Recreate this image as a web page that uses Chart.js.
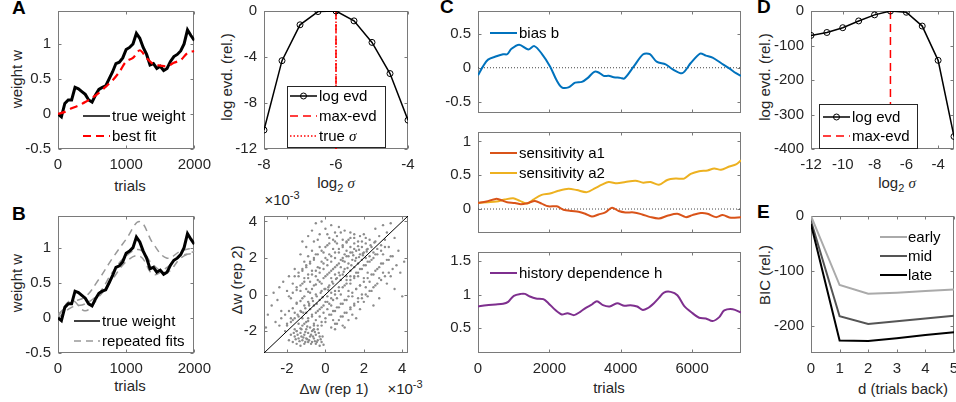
<!DOCTYPE html>
<html>
<head>
<meta charset="utf-8">
<script src="https://cdn.jsdelivr.net/npm/chart.js@4.4.1/dist/chart.umd.min.js"></script>
<style>
  body { margin: 0; width: 956px; height: 402px; overflow: hidden; position: relative; background: #fff;
         font-family: "Liberation Sans", Arial, sans-serif; color: #262626; }
  canvas { position: absolute; }
  .t { position: absolute; font-size: 15px; line-height: 1; white-space: nowrap; transform: translate(-50%, -50%); }
  .r { transform: translate(-50%, -50%) rotate(-90deg); }
  .k { position: absolute; font-size: 19px; font-weight: bold; line-height: 1; color: #000; }
  .s { font-family: "Liberation Serif", serif; font-style: italic; }
  sub, sup { font-size: 11px; line-height: 0; }
</style>
</head>
<body>
<div class="k" style="left:12px;top:-2px">A</div>
<div class="k" style="left:12px;top:204px">B</div>
<div class="k" style="left:440px;top:-3px">C</div>
<div class="k" style="left:757px;top:-3px">D</div>
<div class="k" style="left:757px;top:202px">E</div>

<div class="t r" style="left:16px;top:79px">weight w</div>
<div class="t" style="left:130px;top:185px">trials</div>
<div class="t r" style="left:226px;top:77px">log evd. (rel.)</div>
<div class="t" style="left:336px;top:183px">log<sub>2</sub> <span class="s">σ</span></div>

<div class="t r" style="left:16px;top:283px">weight w</div>
<div class="t" style="left:130px;top:385px">trials</div>
<div class="t r" style="left:236px;top:280px">Δw (rep 2)</div>
<div class="t" style="left:334px;top:388px">Δw (rep 1)</div>
<div class="t" style="left:282px;top:199px">×10<sup>-3</sup></div>
<div class="t" style="left:405px;top:388px">×10<sup>-3</sup></div>

<div class="t" style="left:609px;top:387px">trials</div>

<div class="t r" style="left:764px;top:77px">log evd. (rel.)</div>
<div class="t" style="left:897px;top:183px">log<sub>2</sub> <span class="s">σ</span></div>
<div class="t r" style="left:764px;top:275px">BIC (rel.)</div>
<div class="t" style="left:903px;top:388px">d (trials back)</div>

<script>
// ---- A / B : weight trajectory and fits ----
const trialsW = [0,50,100,150,200,250,300,350,400,450,500,550,600,650,700,750,800,850,900,950,1000,
                 1050,1100,1150,1200,1250,1300,1350,1400,1450,1500,1550,1600,1650,1700,1750,1800,1850,1900,1950,2000];
const trueWeight = [0,-0.04,0.15,0.2,0.2,0.38,0.36,0.32,0.28,0.2,0.17,0.27,0.35,0.38,0.4,0.5,0.6,0.72,0.74,0.8,0.92,
                    0.95,1.0,1.15,1.08,0.95,0.85,0.7,0.72,0.65,0.68,0.62,0.65,0.75,0.82,0.85,0.9,1.0,1.2,1.12,1.05];
const trialsFit = [0,100,200,300,400,500,600,700,800,900,1000,1100,1200,1300,1400,1500,1600,1700,1800,1900,2000];
const bestFit = [0,0.03,0.08,0.12,0.17,0.23,0.3,0.39,0.48,0.6,0.75,0.8,0.91,0.8,0.71,0.69,0.68,0.73,0.77,0.87,0.9];
const trialsRep = [0,200,400,600,800,1000,1200,1400,1600,1800,2000];
const repFit1 = [0.05,0.22,0.3,0.55,0.85,1.12,1.37,1.05,0.85,0.95,1.0];
const repFit2 = [0,0.15,0.2,0.35,0.65,0.88,0.97,0.75,0.65,0.85,0.95];
const repFit3 = [0.02,0.25,0.1,0.3,0.55,0.8,0.88,0.62,0.72,0.88,0.92];

// ---- A right : log evidence over sigma ----
const sigmaA = [-8,-7.5,-7,-6.5,-6,-5.5,-5,-4.5,-4];
const logEvdA = [-10.35,-4.32,-1.2,-0.05,0,-0.86,-2.73,-5.44,-9.49];
const maxEvdA = -6;

// ---- B right : weight changes, rep 1 vs rep 2 (x1e-3) ----
const repPairs = [
  [-1.7,-2.6],[-1.6,-2.3],[-1.5,-2.7],[-1.4,-2.4],[-1.3,-2.1],[-1.3,-2.8],[-1.2,-2.5],[-1.1,-2.2],[-1.1,-2.7],
  [-1.0,-1.9],[-1.0,-2.4],[-0.9,-2.6],[-0.9,-2.1],[-0.8,-2.3],[-0.8,-1.8],[-0.7,-2.6],[-0.7,-2.0],[-0.6,-2.4],
  [-0.5,-2.2],[-0.5,-2.7],[-0.4,-2.5],[-0.3,-2.8],[-0.3,-2.3],[-0.2,-2.6],[-1.6,-1.9],[-1.5,-2.0],[-1.8,-2.2],
  [-1.9,-2.5],[-1.2,-1.7],[-1.4,-1.6],[-0.6,-1.7],[-1.0,-1.5],[-0.4,-1.9],[-0.1,-2.75],[-1.7,-1.4],
  [-1.25,-2.3],[-0.95,-2.45],[-0.75,-2.2],[-0.55,-2.55],[-1.45,-2.2],[-0.65,-1.95],[-1.05,-2.05],[-0.35,-2.1],
  [-1.35,-2.55],[-1.15,-2.35],[-0.85,-2.5],[-0.65,-2.3],[-0.45,-2.6],[-0.25,-2.45],[-1.55,-2.45],[-1.05,-2.6],
  [-0.75,-2.7],[-0.55,-2.05],[-0.95,-1.75],[-1.25,-1.9],[-0.15,-2.3],[-1.65,-2.1],
  [-1.4,-1.2],[-1.3,-0.9],[-1.2,-1.3],[-1.1,-0.6],[-1.0,-1.0],[-0.9,-0.4],[-0.9,-1.3],[-0.8,-0.8],[-0.7,-1.1],
  [-0.7,-0.2],[-0.6,-0.6],[-0.5,-1.4],[-0.5,0.0],[-0.4,-0.9],[-0.3,-0.3],[-0.3,-1.2],[-0.2,0.2],[-0.2,-0.7],
  [-0.1,-1.0],[0.0,-0.4],[0.0,0.3],[0.1,-0.1],[0.1,-0.8],[0.2,0.5],[0.2,-0.5],[0.3,0.1],[0.3,-1.1],[0.4,-0.3],
  [0.4,0.6],[0.5,0.2],[-1.6,-1.0],[-1.5,-0.5],[-1.8,-1.3],[-2.0,-1.6],[-2.1,-1.1],[-1.2,-0.2],[-0.8,0.1],
  [-0.6,-1.6],[0.0,-1.5],[-0.2,-1.7],[-1.15,-1.0],[-0.85,-0.6],[-0.45,-0.5],[-0.15,-0.15],[0.15,0.25],
  [-1.3,0.2],[-1.2,0.6],[-1.2,1.3],[-1.1,0.9],[-1.1,1.8],[-1.0,0.3],[-1.0,1.5],[-0.9,1.1],[-0.9,2.1],[-0.8,0.7],
  [-0.8,1.7],[-0.7,1.3],[-0.7,2.4],[-0.6,0.5],[-0.6,1.9],[-0.5,1.0],[-0.5,2.2],[-0.4,1.5],[-0.4,0.8],[-0.3,2.6],
  [-0.3,1.2],[-0.2,1.8],[-0.2,0.6],[-0.1,2.3],[-0.1,1.4],[0.0,1.0],[0.0,2.0],[0.1,1.6],[0.1,2.7],[0.2,1.2],
  [0.2,2.2],[0.3,1.8],[0.3,0.9],[0.4,2.5],[0.4,1.4],[0.5,2.0],[0.5,1.1],[0.6,2.8],[0.6,1.6],[0.7,2.3],[0.8,1.9],
  [0.9,2.6],[1.0,2.2],[1.1,2.9],[-1.4,1.0],[-1.5,0.4],[-1.6,1.4],[-1.3,2.2],[-1.0,2.6],[-0.6,2.9],
  [0.5,2.9],[0.6,0.9],[0.7,1.2],[0.8,0.8],[0.8,1.5],[0.9,1.1],[0.9,2.0],[1.0,1.4],[1.0,1.8],[1.1,1.0],[1.1,2.4],
  [1.2,1.7],[1.2,2.1],[1.3,1.3],[1.3,2.6],[1.4,1.9],[1.4,2.3],[1.5,1.5],[1.5,2.8],[1.6,2.0],[1.6,2.4],[1.7,1.7],
  [1.7,2.9],[1.8,2.2],[1.8,1.4],[1.9,2.6],[1.9,1.9],[2.0,2.3],[2.0,1.6],[2.1,2.8],[2.1,2.0],[2.2,2.5],[2.2,1.8],
  [2.3,3.0],[2.3,2.1],[2.4,2.6],[2.5,2.3],[2.6,2.9],[2.7,2.5],[2.8,3.2],[1.5,3.1],[1.2,3.0],[1.8,3.2],[2.0,3.3],
  [0.9,3.0],[1.3,1.0],[1.6,1.2],[2.4,1.9],[2.6,2.2],[2.9,2.7],[1.45,2.15],[1.75,2.45],[1.95,2.15],[2.15,2.35],
  [0.3,-0.6],[0.4,-1.4],[0.5,-0.9],[0.6,-0.2],[0.6,-1.6],[0.7,-0.7],[0.7,0.4],[0.8,-1.2],[0.8,0.0],[0.9,-0.5],
  [0.9,-1.7],[1.0,0.5],[1.0,-1.0],[1.1,-0.3],[1.1,0.8],[1.2,-1.4],[1.2,0.2],[1.3,-0.7],[1.3,0.6],[1.4,-0.1],
  [1.4,-1.1],[1.5,0.9],[1.5,-0.5],[1.6,0.3],[1.6,-1.3],[1.7,-0.2],[1.7,1.0],[1.8,0.5],[1.8,-0.8],[1.9,0.0],
  [2.0,0.9],[2.0,-0.4],[2.1,0.4],[2.2,1.2],[2.2,-0.1],[2.3,0.7],[2.4,0.2],[2.5,1.1],[2.6,0.5],[2.7,1.4],
  [2.8,0.9],[2.9,1.7],[3.0,1.2],[1.0,-1.8],[0.5,-1.9],
  [-2.0,-1.7],[-1.8,-1.5],[-1.6,-1.3],[-1.45,-1.1],[-1.25,-0.95],[-1.05,-0.75],[-0.85,-0.5],[-0.65,-0.35],
  [-0.45,-0.1],[-0.25,0.1],[-0.05,0.3],[0.15,0.4],[0.35,0.7],[0.55,0.85],[0.75,1.05],[0.95,1.25],[1.15,1.45],
  [1.35,1.6],[1.55,1.85],[1.75,2.05],[1.95,2.25],[2.15,2.45],[2.35,2.7],[2.55,2.85],
  [-2.3,-1.3],[-1.9,-0.9],[-1.7,-0.75],[-1.5,-0.45],[-1.3,-0.35],[-1.1,-0.1],[-0.9,0.15],[-0.7,0.3],[-0.5,0.55],
  [-0.3,0.7],[-0.1,0.9],[0.1,1.1],[0.3,1.3],[0.5,1.5],[0.7,1.7],[0.9,1.85],[1.1,2.1],[1.3,2.3],[1.5,2.5],
  [1.7,2.65],[1.9,2.9],[2.1,3.1],
  [-1.9,-0.1],[-1.7,0.1],[-1.5,0.25],[-1.3,0.5],[-1.1,0.7],[-0.9,0.9],[-0.7,1.1],[-0.5,1.3],[-0.3,1.45],
  [-0.1,1.7],[0.1,1.9],[0.3,2.1],[0.5,2.3],[0.7,2.5],[0.9,2.7],[1.1,2.85],[1.3,3.1],[1.5,3.3],
  [-1.6,1.0],[-1.4,1.2],[-1.2,1.4],[-1.0,1.6],[-0.8,1.8],[-0.6,2.0],[-0.4,2.2],[-0.2,2.4],[0.0,2.6],[0.2,2.8],
  [0.4,3.0],[0.6,3.2],[0.8,3.4],
  [-1.5,-2.0],[-1.3,-1.85],[-1.1,-1.6],[-0.9,-1.45],[-0.7,-1.2],[-0.5,-1.0],[-0.3,-0.8],[-0.1,-0.6],[0.1,-0.4],
  [0.3,-0.2],[0.5,0.0],[0.7,0.2],[0.9,0.4],[1.1,0.6],[1.3,0.8],[1.5,1.0],[1.7,1.2],[1.9,1.4],[2.1,1.6],[2.3,1.8],
  [2.5,2.0],[2.7,2.2],[2.9,2.4],[3.1,2.6],
  [-0.6,-1.9],[-0.4,-1.7],[-0.2,-1.5],[0.0,-1.3],[0.2,-1.1],[0.4,-0.9],[0.6,-0.7],[0.8,-0.5],[1.0,-0.3],
  [1.2,-0.1],[1.4,0.1],[1.6,0.3],[1.8,0.5],[2.0,0.7],[2.2,0.9],[2.4,1.1],[2.6,1.3],[2.8,1.5],[3.0,1.7],
  [3.2,1.9],[3.4,2.1],
  [0.3,-1.8],[0.5,-1.6],[0.7,-1.4],[0.9,-1.2],[1.1,-1.0],[1.3,-0.8],[1.5,-0.6],[1.7,-0.4],[1.9,-0.2],[2.1,0.0],
  [2.3,0.2],[2.5,0.4],[2.7,0.6],[2.9,0.8],[3.1,1.0],[3.3,1.2],[3.5,1.4],
  [-3.0,-1.1],[-2.8,-0.6],[-2.7,0.1],[-2.5,-0.3],[-2.4,0.4],[-2.3,-0.9],[-2.2,0.7],[-2.0,0.2],[-1.9,1.0],
  [-1.8,-0.2],[-2.6,-1.5],[-2.1,-2.0],[-1.7,0.6],[-2.4,-1.7],[-3.1,-1.8],
  [-0.9,3.2],[-0.7,3.5],[-0.5,3.9],[-0.3,3.3],[-0.2,4.0],[0.0,3.6],[0.2,3.1],[0.3,3.8],[0.5,3.4],[0.7,3.7],
  [1.0,3.5],[-1.2,2.9],[-0.4,3.0],[0.1,3.3],[1.3,3.4],
  [3.0,3.8],[3.2,3.4],[3.3,2.6],[3.4,3.9],[3.5,2.1],[3.6,3.1],[3.7,1.6],[3.8,2.4],[3.9,1.2],[4.0,-0.1],
  [4.1,1.8],[3.2,0.6],[3.4,1.0],[3.6,0.3],[3.0,2.2],[3.1,3.0],[2.6,3.6],[3.3,1.9],[2.8,-0.2],[2.5,-0.6]
];
const repLimits = [-3.2, 4.3];

// ---- C : fitted parameter trajectories ----
const trialsBias = [0,141,282,516,704,817,939,1155,1408,1577,1784,2019,2207,2347,2535,2723,2911,3080,3258,3380,
                    3521,3662,3803,3991,4103,4366,4629,4817,5005,5258,5446,5728,5962,6225,6385,6573,6808,7042,7230,7371];
const biasB = [-0.11,0.02,0.12,0.17,0.2,0.2,0.28,0.34,0.27,0.32,0.21,0.02,-0.19,-0.29,-0.29,-0.22,-0.21,-0.15,-0.06,-0.07,
               -0.12,-0.12,-0.14,-0.15,-0.16,0.02,0.2,0.2,0.09,0.05,-0.02,-0.08,0.07,0.21,0.18,0.15,0.07,-0.01,-0.08,-0.12];
const trialsA1 = [0,235,498,657,817,1033,1202,1408,1596,1784,1972,2207,2394,2629,2817,3005,3192,3380,3568,3756,
                  3944,4131,4366,4601,4836,5070,5305,5587,5822,6009,6244,6432,6667,6854,7089,7371];
const sensA1 = [0.09,0.11,0.15,0.13,0.1,0.09,0.07,0.09,0.12,0.08,0.04,0.04,-0.01,-0.03,-0.04,-0.07,-0.11,-0.08,-0.05,0.02,
                -0.03,-0.05,-0.05,-0.08,-0.12,-0.14,-0.1,-0.07,-0.12,-0.09,-0.06,-0.07,-0.12,-0.09,-0.13,-0.12];
const trialsA2 = [0,282,516,751,986,1174,1380,1549,1784,2019,2254,2535,2770,3052,3286,3474,3662,3897,4131,4413,
                  4629,4836,5070,5305,5540,5775,5962,6197,6432,6620,6808,7042,7230,7371];
const sensA2 = [0.09,0.1,0.11,0.14,0.16,0.12,0.08,0.14,0.21,0.23,0.27,0.3,0.28,0.25,0.31,0.36,0.4,0.38,0.4,0.42,
                0.39,0.4,0.36,0.43,0.45,0.45,0.52,0.56,0.57,0.6,0.58,0.63,0.66,0.72];
const trialsH = [0,235,498,704,845,1005,1202,1315,1455,1624,1831,1972,2160,2347,2507,2695,2864,3023,3192,3333,
                 3502,3690,3897,4103,4272,4460,4601,4742,4930,5070,5211,5399,5587,5775,6009,6197,6385,6573,6761,6901,7136,7371];
const histH = [0.82,0.84,0.85,0.86,0.89,0.98,1.01,1.01,0.97,0.94,0.93,0.87,0.77,0.7,0.72,0.69,0.74,0.8,0.85,0.9,
               0.84,0.82,0.87,0.83,0.84,0.82,0.77,0.79,0.87,0.95,1.03,1.04,0.99,0.83,0.72,0.65,0.64,0.6,0.66,0.76,0.78,0.73];
const trialsMaxC = 7370;

// ---- D : log evidence, real data ----
const sigmaD = [-12,-11,-10,-9,-8,-7,-6,-5,-4,-3];
const logEvdD = [-70.7,-62.3,-48.4,-28.8,-11.2,0,-3.7,-43.7,-143,-363.7];
const maxEvdD = -7;

// ---- E : BIC vs history length ----
const trialsBack = [0,1,2,3,4,5];
const bicEarly = [0,-126,-142,-140,-137,-134];
const bicMid = [-9,-183,-197,-192,-187,-182];
const bicLate = [-15,-227,-228,-223,-217,-212];

// ---- tick sets ----
const ticksTrialsAB = [0,1000,2000];
const ticksWeight = [-0.5,0,0.5,1];
const ticksSigmaA = [-8,-6,-4];
const ticksEvdA = [-12,-8,-4,0];
const ticksRep = [-2,0,2,4];
const ticksTrialsC = [0,2000,4000,6000];
const ticksBias = [-0.5,0,0.5];
const ticksSens = [0,0.5,1];
const ticksHist = [0.5,1,1.5];
const ticksSigmaD = [-12,-10,-8,-6,-4];
const ticksEvdD = [-400,-300,-200,-100,0];
const ticksBack = [0,1,2,3,4,5];
const ticksBic = [-200,-100,0];

Chart.defaults.font.family = '"Liberation Sans", Arial, sans-serif';
Chart.defaults.font.size = 15;
Chart.defaults.color = '#262626';

const SANS = '15px "Liberation Sans", Arial, sans-serif';
const SERIF_I = 'italic 15px "Liberation Serif", serif';

function xy(xs, ys) { return xs.map((x, i) => ({ x: x, y: ys[i] })); }

function axis(min, max, ticks, labels) {
  return {
    type: 'linear', min: min, max: max,
    grid: { display: false, drawTicks: false },
    border: { display: false },
    ticks: { display: labels !== false, padding: 7, autoSkip: false, maxRotation: 0, callback: v => String(v) },
    afterBuildTicks: s => { s.ticks = ticks.map(v => ({ value: v })); }
  };
}

function line(label, data, color, width, dash, extra) {
  return Object.assign({ label: label, data: data, showLine: true, borderColor: color, backgroundColor: color,
    borderWidth: width, borderDash: dash || [], pointRadius: 0, tension: 0 }, extra || {});
}

// box outline with inward ticks, matlab style
const frame = {
  id: 'frame',
  beforeDatasetsDraw(chart) {
    const { ctx, chartArea: a, scales } = chart;
    const L = Math.round(a.left) + 0.5, R = Math.round(a.right) - 0.5;
    const T = Math.round(a.top) + 0.5, B = Math.round(a.bottom) - 0.5;
    ctx.save();
    ctx.strokeStyle = '#7a7a7a';
    ctx.lineWidth = 1;
    ctx.strokeRect(L, T, R - L, B - T);
    ctx.beginPath();
    scales.x.ticks.forEach(t => {
      const p = Math.round(scales.x.getPixelForValue(t.value)) + 0.5;
      ctx.moveTo(p, B); ctx.lineTo(p, B - 3);
      ctx.moveTo(p, T); ctx.lineTo(p, T + 3);
    });
    scales.y.ticks.forEach(t => {
      const p = Math.round(scales.y.getPixelForValue(t.value)) + 0.5;
      ctx.moveTo(L, p); ctx.lineTo(L + 3, p);
      ctx.moveTo(R, p); ctx.lineTo(R - 3, p);
    });
    ctx.stroke();
    ctx.restore();
  }
};

// legend drawn inside the axes
const keyBox = {
  id: 'keyBox',
  afterDatasetsDraw(chart, args, o) {
    if (!o || !o.rows) return;
    const { ctx, chartArea: a } = chart;
    ctx.save();
    if (o.box) {
      const [bx, by, bw, bh] = o.box;
      ctx.fillStyle = '#fff';
      ctx.fillRect(a.left + bx, a.top + by, bw, bh);
      ctx.strokeStyle = '#262626';
      ctx.lineWidth = 1;
      ctx.strokeRect(a.left + bx + 0.5, a.top + by + 0.5, bw, bh);
    }
    o.rows.forEach(r => {
      const ds = chart.data.datasets[r[0]];
      const yy = a.top + r[1];
      const x0 = a.left + o.line[0], x1 = a.left + o.line[1];
      ctx.strokeStyle = ds.borderColor;
      ctx.lineWidth = r[2] || ds.borderWidth;
      ctx.setLineDash(ds.borderDash || []);
      ctx.beginPath(); ctx.moveTo(x0, yy); ctx.lineTo(x1, yy); ctx.stroke();
      ctx.setLineDash([]);
      if (ds.pointRadius > 0) {
        ctx.lineWidth = 1;
        ctx.beginPath(); ctx.arc((x0 + x1) / 2, yy, ds.pointRadius, 0, Math.PI * 2); ctx.stroke();
      }
      ctx.fillStyle = '#000';
      ctx.textBaseline = 'middle';
      let x = a.left + o.text;
      ds.label.split(/(σ)/).forEach(part => {
        if (!part) return;
        ctx.font = part === 'σ' ? SERIF_I : SANS;
        ctx.fillText(part, x, yy + 1);
        x += ctx.measureText(part).width;
      });
    });
    ctx.restore();
  }
};

function panel(box, cfg) {
  const p = { l: 52, r: 16, t: 10, b: 40 };
  const W = box.w + p.l + p.r, H = box.h + p.t + p.b;
  const cv = document.createElement('canvas');
  cv.width = W; cv.height = H;
  cv.style.left = (box.x - p.l) + 'px';
  cv.style.top = (box.y - p.t) + 'px';
  cv.style.width = W + 'px';
  cv.style.height = H + 'px';
  document.body.appendChild(cv);
  cfg.type = 'scatter';
  cfg.plugins = [frame, keyBox];
  const o = cfg.options;
  o.responsive = false;
  o.animation = false;
  o.devicePixelRatio = 1;
  o.layout = { padding: { left: 0, top: p.t, right: p.r, bottom: 0 }, autoPadding: false };
  o.plugins = Object.assign({ legend: { display: false }, tooltip: { enabled: false } }, o.plugins || {});
  o.scales.x.afterFit = s => { s.height = p.b; };
  o.scales.y.afterFit = s => { s.width = p.l; };
  return new Chart(cv, cfg);
}

const RED = '#ff0000';

// A left
panel({ x: 58, y: 5, w: 144, h: 144 }, {
  data: { datasets: [
    line('best fit', xy(trialsFit, bestFit), RED, 2.2, [8, 5], { tension: 0.3 }),
    line('true weight', xy(trialsW, trueWeight), '#000', 3)
  ] },
  options: {
    scales: { x: axis(0, 2000, ticksTrialsAB), y: axis(-0.5, 1.47, ticksWeight) },
    plugins: { keyBox: { line: [25, 52], text: 54, rows: [[1, 105, 1.5], [0, 125]] } }
  }
});

// A right
panel({ x: 264, y: 5, w: 144, h: 144 }, {
  data: { datasets: [
    line('log evd', xy(sigmaA, logEvdA), '#000', 1.5, [], { pointRadius: 3, pointBorderWidth: 1,
      pointBackgroundColor: 'rgba(0,0,0,0)', pointBorderColor: '#000' }),
    line('max-evd', [{ x: maxEvdA, y: -12 }, { x: maxEvdA, y: 0 }], RED, 1.5, [8, 5]),
    line('true σ', [{ x: maxEvdA, y: -12 }, { x: maxEvdA, y: 0 }], RED, 1.5, [1.5, 2])
  ] },
  options: {
    scales: { x: axis(-8, -4, ticksSigmaA), y: axis(-12, 0, ticksEvdA) },
    plugins: { keyBox: { box: [23, 75, 98, 61], line: [26, 53], text: 55, rows: [[0, 85], [1, 105], [2, 125]] } }
  }
});

// B left
panel({ x: 58, y: 210, w: 144, h: 143 }, {
  data: { datasets: [
    line('true weight', xy(trialsW, trueWeight), '#000', 3),
    line('repeated fits', xy(trialsRep, repFit1), '#999', 1.5, [7, 5], { tension: 0.4 }),
    line('fit 2', xy(trialsRep, repFit2), '#999', 1.5, [7, 5], { tension: 0.4 }),
    line('fit 3', xy(trialsRep, repFit3), '#999', 1.5, [7, 5], { tension: 0.4 })
  ] },
  options: {
    scales: { x: axis(0, 2000, ticksTrialsAB), y: axis(-0.5, 1.45, ticksWeight) },
    plugins: { keyBox: { line: [16, 42], text: 44, rows: [[0, 105, 1.5], [1, 125]] } }
  }
});

// B right
panel({ x: 264, y: 210, w: 144, h: 143 }, {
  data: { datasets: [
    line('identity', [{ x: repLimits[0], y: repLimits[0] }, { x: repLimits[1], y: repLimits[1] }], '#000', 1),
    { label: 'rep', data: repPairs.map(p => ({ x: p[0], y: p[1] })), pointRadius: 1.2, pointBorderWidth: 0,
      pointBackgroundColor: '#8c8c8c', showLine: false }
  ] },
  options: {
    scales: { x: axis(repLimits[0], repLimits[1], ticksRep), y: axis(repLimits[0], repLimits[1], ticksRep) }
  }
});

// C top: bias
panel({ x: 478, y: 5, w: 263, h: 108 }, {
  data: { datasets: [
    line('bias b', xy(trialsBias, biasB), '#0072BD', 2, [], { tension: 0.3 }),
    line('zero', [{ x: 0, y: 0 }, { x: trialsMaxC, y: 0 }], '#444', 1, [1, 2])
  ] },
  options: {
    scales: { x: axis(0, trialsMaxC, ticksTrialsC, false), y: axis(-0.67, 0.84, ticksBias) },
    plugins: { keyBox: { line: [12, 39], text: 41, rows: [[0, 22]] } }
  }
});

// C middle: sensitivities
panel({ x: 478, y: 126, w: 263, h: 107 }, {
  data: { datasets: [
    line('sensitivity a1', xy(trialsA1, sensA1), '#D95319', 2, [], { tension: 0.3 }),
    line('sensitivity a2', xy(trialsA2, sensA2), '#EDB120', 2, [], { tension: 0.3 }),
    line('zero', [{ x: 0, y: 0 }, { x: trialsMaxC, y: 0 }], '#444', 1, [1, 2])
  ] },
  options: {
    scales: { x: axis(0, trialsMaxC, ticksTrialsC, false), y: axis(-0.355, 1.14, ticksSens) },
    plugins: { keyBox: { line: [12, 39], text: 41, rows: [[0, 21], [1, 41]] } }
  }
});

// C bottom: history dependence
panel({ x: 478, y: 246, w: 263, h: 107 }, {
  data: { datasets: [
    line('history dependence h', xy(trialsH, histH), '#7E2F8E', 2, [], { tension: 0.3 })
  ] },
  options: {
    scales: { x: axis(0, trialsMaxC, ticksTrialsC), y: axis(0.12, 1.64, ticksHist) },
    plugins: { keyBox: { line: [12, 39], text: 41, rows: [[0, 21]] } }
  }
});

// D
panel({ x: 811, y: 5, w: 143, h: 144 }, {
  data: { datasets: [
    line('log evd', xy(sigmaD, logEvdD), '#000', 1.5, [], { pointRadius: 3, pointBorderWidth: 1,
      pointBackgroundColor: 'rgba(0,0,0,0)', pointBorderColor: '#000' }),
    line('max-evd', [{ x: maxEvdD, y: -400 }, { x: maxEvdD, y: 0 }], RED, 1.5, [8, 5])
  ] },
  options: {
    scales: { x: axis(-12, -3, ticksSigmaD), y: axis(-400, 0, ticksEvdD) },
    plugins: { keyBox: { box: [8, 93, 98, 44], line: [12, 39], text: 41, rows: [[0, 106], [1, 125]] } }
  }
});

// E
panel({ x: 811, y: 210, w: 143, h: 143 }, {
  data: { datasets: [
    line('late', xy(trialsBack, bicLate), '#000', 2),
    line('mid', xy(trialsBack, bicMid), '#555', 2),
    line('early', xy(trialsBack, bicEarly), '#aaa', 2)
  ] },
  options: {
    scales: { x: axis(0, 5, ticksBack), y: axis(-250, 0, ticksBic) },
    plugins: { keyBox: { line: [69, 96], text: 97, rows: [[2, 21], [1, 40], [0, 59]] } }
  }
});
</script>
</body>
</html>
